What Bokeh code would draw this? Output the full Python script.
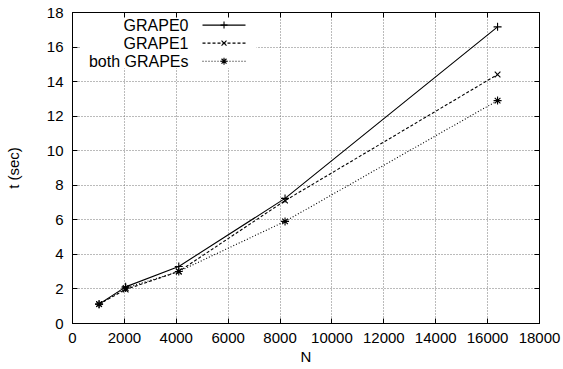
from bokeh.plotting import figure
from bokeh.models import Range1d, LinearAxis, SingleIntervalTicker, BoxAnnotation, CustomJSTickFormatter
from bokeh.core.properties import value
from bokeh.embed import file_html
from bokeh.resources import INLINE

# ---- data ----
N = [1024, 2048, 4096, 8192, 16384]
grape0 = [1.12, 2.12, 3.30, 7.24, 17.17]
grape1 = [1.12, 1.97, 3.01, 7.11, 14.41]
both = [1.12, 2.05, 3.01, 5.91, 12.90]
series_names = ["GRAPE0", "GRAPE1", "both GRAPEs"]

FONT = "Liberation Sans"
FS = "15px"

p = figure(width=563, height=369, output_backend="svg", toolbar_location=None,
           x_range=Range1d(0, 18000), y_range=Range1d(0, 18),
           min_border_left=72, min_border_right=24, min_border_top=12, min_border_bottom=46)
p.outline_line_color = "black"
p.outline_line_width = 1
p.background_fill_color = "white"
p.border_fill_color = "white"

for ax in (p.xaxis[0], p.yaxis[0]):
    ax.major_tick_in = 5
    ax.major_tick_out = 0
    ax.minor_tick_in = 0
    ax.minor_tick_out = 0
    ax.axis_line_color = "black"
    ax.major_tick_line_color = "black"
    ax.major_label_text_font = FONT
    ax.major_label_text_font_size = FS
    ax.major_label_text_color = "black"
    ax.axis_label_text_font = FONT
    ax.axis_label_text_font_size = FS
    ax.axis_label_text_font_style = "normal"
    ax.axis_label_text_color = "black"
    ax.major_label_standoff = 9

p.xaxis[0].ticker = SingleIntervalTicker(interval=2000, num_minor_ticks=0)
p.yaxis[0].ticker = SingleIntervalTicker(interval=2, num_minor_ticks=0)
p.xaxis[0].axis_label = "N"
p.yaxis[0].axis_label = "t (sec)"
p.xaxis[0].axis_label_standoff = 2
p.yaxis[0].axis_label_standoff = 22

# mirror axes (ticks only)
top = LinearAxis(ticker=SingleIntervalTicker(interval=2000, num_minor_ticks=0))
right = LinearAxis(ticker=SingleIntervalTicker(interval=2, num_minor_ticks=0))
for ax in (top, right):
    ax.major_tick_in = 5
    ax.major_tick_out = 0
    ax.minor_tick_in = 0
    ax.minor_tick_out = 0
    ax.formatter = CustomJSTickFormatter(code="return ''")
    ax.major_label_standoff = 0
    ax.axis_line_color = "black"
p.add_layout(top, "above")
p.add_layout(right, "right")

p.grid.grid_line_color = "#777777"
p.grid.grid_line_dash = "1 2"
p.grid.grid_line_width = 1
p.xgrid.ticker = SingleIntervalTicker(interval=2000)
p.ygrid.ticker = SingleIntervalTicker(interval=2)

# legend background covering grid
box = BoxAnnotation(left=308, right=7092, bottom=14.77, top=18,
                    fill_color="white", fill_alpha=1.0, line_alpha=0, level="underlay")
p.add_layout(box)

dashes = ["solid", "3 2", "1 2"]
markers = ["cross", "x", "asterisk"]
ys = [grape0, grape1, both]

for yv, dash, mk in zip(ys, dashes, markers):
    p.line(N, yv, line_color="black", line_width=1.1, line_dash=dash)
    p.scatter(N, yv, marker=mk, size=8, line_color="black", line_width=1.1)

# manual legend (text left, sample right, like gnuplot)
leg_y = [17.27, 16.23, 15.18]
p.text(x=[4471] * 3, y=leg_y, text=series_names, text_align="right", text_baseline="middle",
       text_font=value(FONT), text_font_size="16px", text_color="black")
for ly, dash, mk in zip(leg_y, dashes, markers):
    p.line([5011, 6668], [ly, ly], line_color="black", line_width=1.1, line_dash=dash)
    p.scatter([5840], [ly], marker=mk, size=7, line_color="black", line_width=1.1)

open("out.html", "w").write(file_html(p, INLINE))
